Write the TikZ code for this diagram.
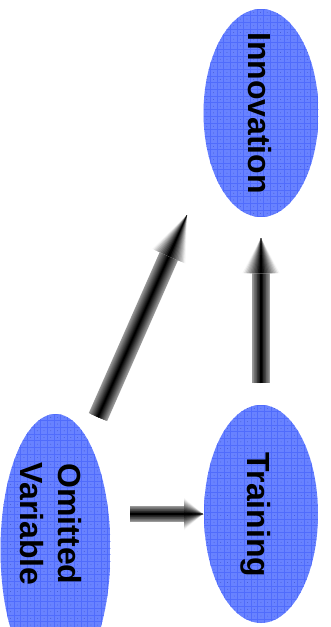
\documentclass[tikz,border=0pt]{standalone}
\usepackage{fontspec}
\setmainfont{Liberation Sans}
\usetikzlibrary{shapes.geometric,calc}
\definecolor{bfill}{RGB}{104,130,255}
\definecolor{bgrid}{RGB}{80,108,252}
\definecolor{bdot}{RGB}{60,82,200}
\newcommand\shadearrow[5]{%
  \coordinate (hb) at ($(#2)!#5!(#1)$);
  \foreach \k in {0,...,11}{
    \pgfmathsetmacro\lw{(1-\k/12)*#3}
    \pgfmathtruncatemacro\cc{40+60*\k/11}
    \draw[line width=\lw pt, draw=black!\cc] (#1) -- (hb);
  }
  \foreach \k in {0,...,11}{
    \pgfmathsetmacro\hw{(1-\k/12)*#4/2}
    \pgfmathtruncatemacro\cc{4+96*\k/11}
    \fill[black!\cc] (#2) -- ($(hb)!{\hw pt}!90:(#2)$) -- ($(hb)!{\hw pt}!-90:(#2)$) -- cycle;
  }
}
\tikzset{
  blob/.style={ellipse, draw=none, inner sep=0pt, path picture={
    \fill[bfill] (path picture bounding box.north west) rectangle (path picture bounding box.south east);
    \foreach \i in {0,...,18}{\draw[bgrid, line width=0.7pt] ($(path picture bounding box.north west)+(\i*6.7,0)$) -- ++(0,300);}
    \foreach \j in {0,...,41}{\draw[bgrid, line width=0.7pt] ($(path picture bounding box.north west)+(0,\j*6.7)$) -- ++(130,0);}
    \foreach \i in {0,...,17}{\foreach \j in {0,...,40}{\fill[bdot] ($(path picture bounding box.north west)+(\i*6.7+3.35,\j*6.7+3.35)$) circle (0.4pt);}}
  }},
  lbl/.style={inner sep=0pt, rotate=-90, font=\fontsize{32}{38}\selectfont\bfseries, text=black, align=center}
}
\begin{document}
\begin{tikzpicture}[x=1pt,y=-1pt]
\fill[white] (0,0) rectangle (331,627);
\useasboundingbox (0,0) rectangle (331,627);
% ellipses
\node[blob, minimum width=115pt, minimum height=208pt] (inn) at (261,113) {};
\node[blob, minimum width=114pt, minimum height=218pt] (tra) at (261,514) {};
\node[blob, minimum width=110pt, minimum height=272pt] (ov) at (55.5,550) {};
% labels
\node[lbl, anchor=base] (innt) at (248,113) {Innovation};
\node[lbl, anchor=base] (trat) at (247,515) {Training};
\node[lbl] (ovt) at (51,524) {Omitted\\Variable};
% arrow end points
\coordinate (d1) at (98,417);
\coordinate (d2) at (187,215);
\coordinate (v1) at (261,383);
\coordinate (v2) at (261,238);
\coordinate (h1) at (130,514);
\coordinate (h2) at (203,514);
\shadearrow{d1}{d2}{20}{36}{45pt}
\shadearrow{v1}{v2}{18}{37}{35pt}
\shadearrow{h1}{h2}{16}{32}{19pt}
\end{tikzpicture}
\end{document}
